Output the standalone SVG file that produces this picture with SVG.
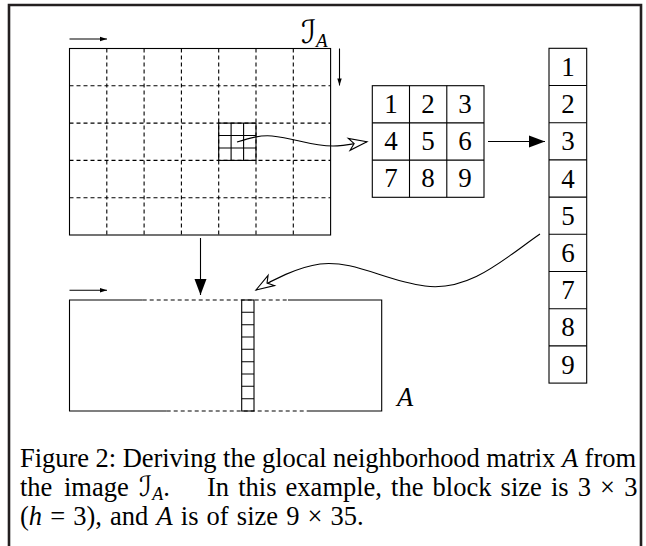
<svg xmlns="http://www.w3.org/2000/svg" width="646" height="546" viewBox="0 0 646 546">
<style>
.ln{stroke:#000;stroke-width:1.1;fill:none}
.ds{stroke:#000;stroke-width:1.1;fill:none;stroke-dasharray:4 3}
.dg{font-family:"Liberation Serif","DejaVu Serif",serif;font-size:27px;fill:#000;text-anchor:middle}
.cap{font-family:"Liberation Serif","Times New Roman",serif;font-size:26.5px;fill:#000}
.it{font-style:italic}
.cal{font-family:"DejaVu Sans","Noto Sans",sans-serif;font-style:normal}
</style>
<defs>
<marker id="fill" viewBox="-17 -7 18 14" refX="0" refY="0" markerWidth="18" markerHeight="14" markerUnits="userSpaceOnUse" orient="auto"><path d="M0,0 L-16,-6 L-16,6 Z" fill="#000"/></marker>
<marker id="small" viewBox="-9 -4 10 8" refX="0" refY="0" markerWidth="10" markerHeight="8" markerUnits="userSpaceOnUse" orient="auto"><path d="M0,0 L-7,-2.2 L-7,2.2 Z" fill="#000"/></marker>
<marker id="open" viewBox="-20 -8 22 16" refX="0" refY="0" markerWidth="22" markerHeight="16" markerUnits="userSpaceOnUse" orient="auto"><path d="M0,0 L-18,-6 L-13,0 L-18,6 Z" fill="#fff" stroke="#000" stroke-width="1.1" stroke-linejoin="miter"/></marker>
</defs>
<rect width="646" height="546" fill="#fff"/>
<path d="M9,546 L9,5 L641,5 L641,546" fill="none" stroke="#231f20" stroke-width="2.6"/>

<g id="image-IA">
<rect x="69.5" y="48.5" width="261.1" height="186.5" class="ln"/>
<path class="ds" d="M106.8,48.5V235 M144.1,48.5V235 M181.4,48.5V235 M218.7,48.5V235 M256,48.5V235 M293.3,48.5V235 M69.5,85.8H330.6 M69.5,123.1H330.6 M69.5,160.4H330.6 M69.5,197.7H330.6"/>
<rect x="218.7" y="123.1" width="37.3" height="37.3" class="ln"/>
<path class="ln" d="M231.1,123.1V160.4 M243.6,123.1V160.4 M218.7,135.5H256 M218.7,148H256"/>
<text x="301" y="43" font-size="32" class="cal">ℐ<tspan font-family="Liberation Serif" font-style="italic" font-size="19" dy="4">A</tspan></text>
</g>

<g id="block-3x3">
<rect x="372.3" y="85.7" width="111.7" height="111.6" class="ln"/>
<path class="ln" d="M409.5,85.7V197.3 M446.8,85.7V197.3 M372.3,122.9H484 M372.3,160.1H484"/>
<text class="dg" x="391" y="113">1</text><text class="dg" x="428" y="113">2</text><text class="dg" x="465" y="113">3</text>
<text class="dg" x="391" y="150">4</text><text class="dg" x="428" y="150">5</text><text class="dg" x="465" y="150">6</text>
<text class="dg" x="391" y="187">7</text><text class="dg" x="428" y="187">8</text><text class="dg" x="465" y="187">9</text>
</g>

<g id="column-vector">
<rect x="549" y="48.3" width="37.7" height="334.8" class="ln"/>
<path class="ln" d="M549,85.5H586.7 M549,122.7H586.7 M549,159.9H586.7 M549,197.1H586.7 M549,234.3H586.7 M549,271.5H586.7 M549,308.7H586.7 M549,345.9H586.7"/>
<text class="dg" x="568" y="76">1</text><text class="dg" x="568" y="113">2</text><text class="dg" x="568" y="150">3</text>
<text class="dg" x="568" y="188">4</text><text class="dg" x="568" y="225">5</text><text class="dg" x="568" y="262">6</text>
<text class="dg" x="568" y="299">7</text><text class="dg" x="568" y="336">8</text><text class="dg" x="568" y="374">9</text>
</g>

<g id="matrix-A">
<path class="ln" d="M142.7,300H69.5V411H166.7 M288,300H381.7V411H306.7"/>
<path class="ds" d="M142.7,300H288 M166.7,411H306.7"/>
<rect x="241.7" y="300" width="12.3" height="111" class="ln"/>
<path class="ln" d="M241.7,312.3H254 M241.7,324.7H254 M241.7,337H254 M241.7,349.3H254 M241.7,361.7H254 M241.7,374H254 M241.7,386.3H254 M241.7,398.7H254"/>
<text x="397" y="406" class="cap it" font-size="30">A</text>
</g>

<g id="connectors">
<path class="ln" d="M69.5,39H107" marker-end="url(#small)"/>
<path class="ln" d="M339.5,48.5V85.5" marker-end="url(#small)"/>
<path class="ln" d="M69.5,290.3H107" marker-end="url(#small)"/>
<path class="ln" d="M237,142 C250,138 260,135 272,136 C295,138 310,146 333,146 C343,146 355,143.5 367,141.7" marker-end="url(#open)"/>
<path class="ln" d="M488,141.5H545" marker-end="url(#fill)"/>
<path class="ln" d="M200.5,238V295" marker-end="url(#fill)"/>
<path class="ln" d="M540,234 C505,258 470,292 425,286 C385,281 355,260 320,264 C298,267 272,280 256,290" marker-end="url(#open)"/>
</g>

<g id="caption">
<text class="cap" x="20" y="467" textLength="616" lengthAdjust="spacing">Figure 2: Deriving the glocal neighborhood matrix <tspan class="it">A</tspan> from</text>
<text class="cap" x="20" y="496">the<tspan x="64">image</tspan><tspan x="139" class="cal" font-size="28">ℐ</tspan><tspan class="it" font-size="18" dy="4">A</tspan><tspan dy="-4">.</tspan><tspan x="207" word-spacing="2.5">In this example, the block size is 3 × 3</tspan></text>
<text class="cap" x="20" y="525" word-spacing="1.5">(<tspan class="it">h</tspan> = 3), and <tspan class="it">A</tspan> is of size 9 × 35.</text>
</g>
</svg>
